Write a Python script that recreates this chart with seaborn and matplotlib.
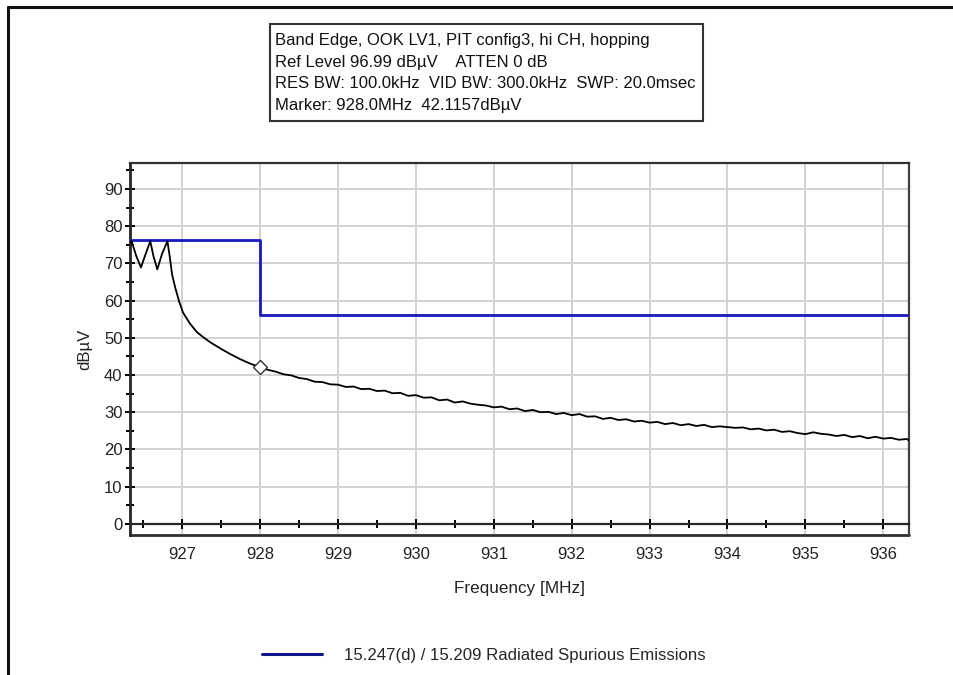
import numpy as np
import pandas as pd
import matplotlib
matplotlib.use("Agg")
import matplotlib.pyplot as plt
from matplotlib.lines import Line2D
from matplotlib.ticker import MultipleLocator
import seaborn as sns

trace_freq = [926.33, 926.35, 926.41, 926.47, 926.53, 926.59, 926.63, 926.68,
              926.74, 926.81, 926.84, 926.87, 926.91, 926.96, 927.01, 927.10,
              927.19, 927.28, 927.36, 927.50, 927.62, 927.75, 927.88, 928.00,
              928.1, 928.2, 928.3, 928.4, 928.5, 928.6, 928.7, 928.8, 928.9,
              929.0, 929.1, 929.2, 929.3, 929.4, 929.5, 929.6, 929.7, 929.8, 929.9,
              930.0, 930.1, 930.2, 930.3, 930.4, 930.5, 930.6, 930.7, 930.8, 930.9,
              931.0, 931.1, 931.2, 931.3, 931.4, 931.5, 931.6, 931.7, 931.8, 931.9,
              932.0, 932.1, 932.2, 932.3, 932.4, 932.5, 932.6, 932.7, 932.8, 932.9,
              933.0, 933.1, 933.2, 933.3, 933.4, 933.5, 933.6, 933.7, 933.8, 933.9,
              934.0, 934.1, 934.2, 934.3, 934.4, 934.5, 934.6, 934.7, 934.8, 934.9,
              935.0, 935.1, 935.2, 935.3, 935.4, 935.5, 935.6, 935.7, 935.8, 935.9,
              936.0, 936.1, 936.2, 936.3, 936.33]
trace_level = [75.5, 76.0, 72.0, 68.9, 72.5, 76.0, 72.0, 68.4,
               72.5, 76.0, 71.8, 67.0, 63.5, 59.8, 56.8, 53.8,
               51.5, 50.0, 48.8, 47.0, 45.6, 44.2, 43.0, 42.1,
               41.4, 40.9, 40.2, 39.9, 39.2, 38.9, 38.2, 38.1, 37.5,
               37.4, 36.8, 36.9, 36.2, 36.3, 35.7, 35.8, 35.1, 35.2, 34.4,
               34.6, 33.9, 34.0, 33.2, 33.4, 32.6, 32.9, 32.3, 32.0, 31.8,
               31.3, 31.5, 30.8, 31.0, 30.3, 30.6, 30.0, 30.1, 29.5, 29.8,
               29.2, 29.5, 28.8, 28.9, 28.2, 28.5, 27.9, 28.1, 27.5, 27.7,
               27.2, 27.4, 26.8, 27.1, 26.5, 26.8, 26.3, 26.6, 26.0, 26.2,
               26.0, 25.8, 25.9, 25.4, 25.6, 25.1, 25.3, 24.7, 24.9, 24.4,
               24.1, 24.6, 24.2, 24.0, 23.6, 23.9, 23.3, 23.6, 23.0, 23.4,
               22.9, 23.1, 22.6, 22.8, 22.4]

# 15.247(d) / 15.209 limit line
limit_freq = [926.33, 928.0, 928.0, 928.9, 928.9, 936.33]
limit_level = [76.2, 76.2, 56.2, 56.2, 56.0, 56.0]

marker_freq = 928.0
marker_level = 42.1157

header_lines = [
    "Band Edge, OOK LV1, PIT config3, hi CH, hopping",
    "Ref Level 96.99 dB\u00b5V    ATTEN 0 dB",
    "RES BW: 100.0kHz  VID BW: 300.0kHz  SWP: 20.0msec",
    "Marker: 928.0MHz  42.1157dB\u00b5V",
]
legend_label = "15.247(d) / 15.209 Radiated Spurious Emissions"

sns.set_style("white")
plt.rcParams["font.family"] = ["Liberation Sans", "DejaVu Sans"]

trace = pd.DataFrame({"freq": trace_freq, "level": trace_level})
limit = pd.DataFrame({"freq": limit_freq, "level": limit_level})

fig = plt.figure(figsize=(9.54, 6.75), dpi=100)
ax = fig.add_axes([0.1363, 0.2074, 0.9528 - 0.1363, 0.7585 - 0.2074])

ax.grid(True, which="major", color="#d2d2d2", lw=1.4)
ax.set_axisbelow(True)

sns.lineplot(data=limit, x="freq", y="level", ax=ax, color="#1818c0",
             lw=2.0, sort=False, estimator=None, zorder=3)
sns.lineplot(data=trace, x="freq", y="level", ax=ax, color="black",
             lw=1.3, sort=False, estimator=None, zorder=4)
ax.plot([marker_freq], [marker_level], marker="D", ms=7, mfc="white",
        mec="#333333", mew=1.0, zorder=5)

ax.set_xlim(926.33, 936.33)
ax.set_ylim(-3.01, 96.99)
ax.xaxis.set_major_locator(MultipleLocator(1))
ax.xaxis.set_minor_locator(MultipleLocator(0.5))
ax.yaxis.set_major_locator(MultipleLocator(10))
ax.yaxis.set_minor_locator(MultipleLocator(5))

# x axis line drawn at 0 dB, frame kept below it
ax.spines["bottom"].set_position(("data", 0))
ax.spines["bottom"].set_linewidth(1.6)
ax.spines["left"].set_linewidth(2.0)
ax.spines["top"].set_linewidth(1.6)
ax.spines["right"].set_linewidth(1.6)
ax.spines["top"].set_color("#303030")
ax.spines["right"].set_color("#404040")
ax.axhline(-3.01, color="#303030", lw=2.0, clip_on=False)

ax.tick_params(axis="both", which="both", direction="inout", color="black",
               bottom=True, left=True, top=False, right=False,
               width=1.4, labelsize=12, labelcolor="#222222")
ax.tick_params(axis="both", which="major", length=7)
ax.tick_params(axis="both", which="minor", length=6)
ax.tick_params(axis="x", which="both", pad=13)
ax.tick_params(axis="y", which="both", pad=2)

ax.set_xlabel("Frequency [MHz]", fontsize=12.3, color="#222222", labelpad=14)
ax.set_ylabel("dB\u00b5V", fontsize=12, color="#222222", labelpad=8)

# info box
fig.text(0.2883, 1 - 33 / 675, "\n".join(header_lines), fontsize=12.0,
         color="#111111", va="top", ha="left", linespacing=1.56)
fig.add_artist(plt.Rectangle((270 / 954, 1 - 121 / 675), 433 / 954, 97 / 675,
                             transform=fig.transFigure, fill=False,
                             ec="#333333", lw=1.5))

# legend
fig.legend(handles=[Line2D([], [], color="#12128a", lw=2.2)],
           labels=[legend_label], loc="center", bbox_to_anchor=(0.507, 0.0296),
           frameon=False, fontsize=12.1, handlelength=3.6, handletextpad=1.3)

# outer window frame
fig.add_artist(Line2D([8 / 954, 1.0], [1 - 7 / 675, 1 - 7 / 675],
                      transform=fig.transFigure, color="#111111", lw=2.2))
fig.add_artist(Line2D([8 / 954, 8 / 954], [0.0, 1 - 7 / 675],
                      transform=fig.transFigure, color="#111111", lw=2.2))

fig.savefig("out.png", dpi=100, facecolor="white")
